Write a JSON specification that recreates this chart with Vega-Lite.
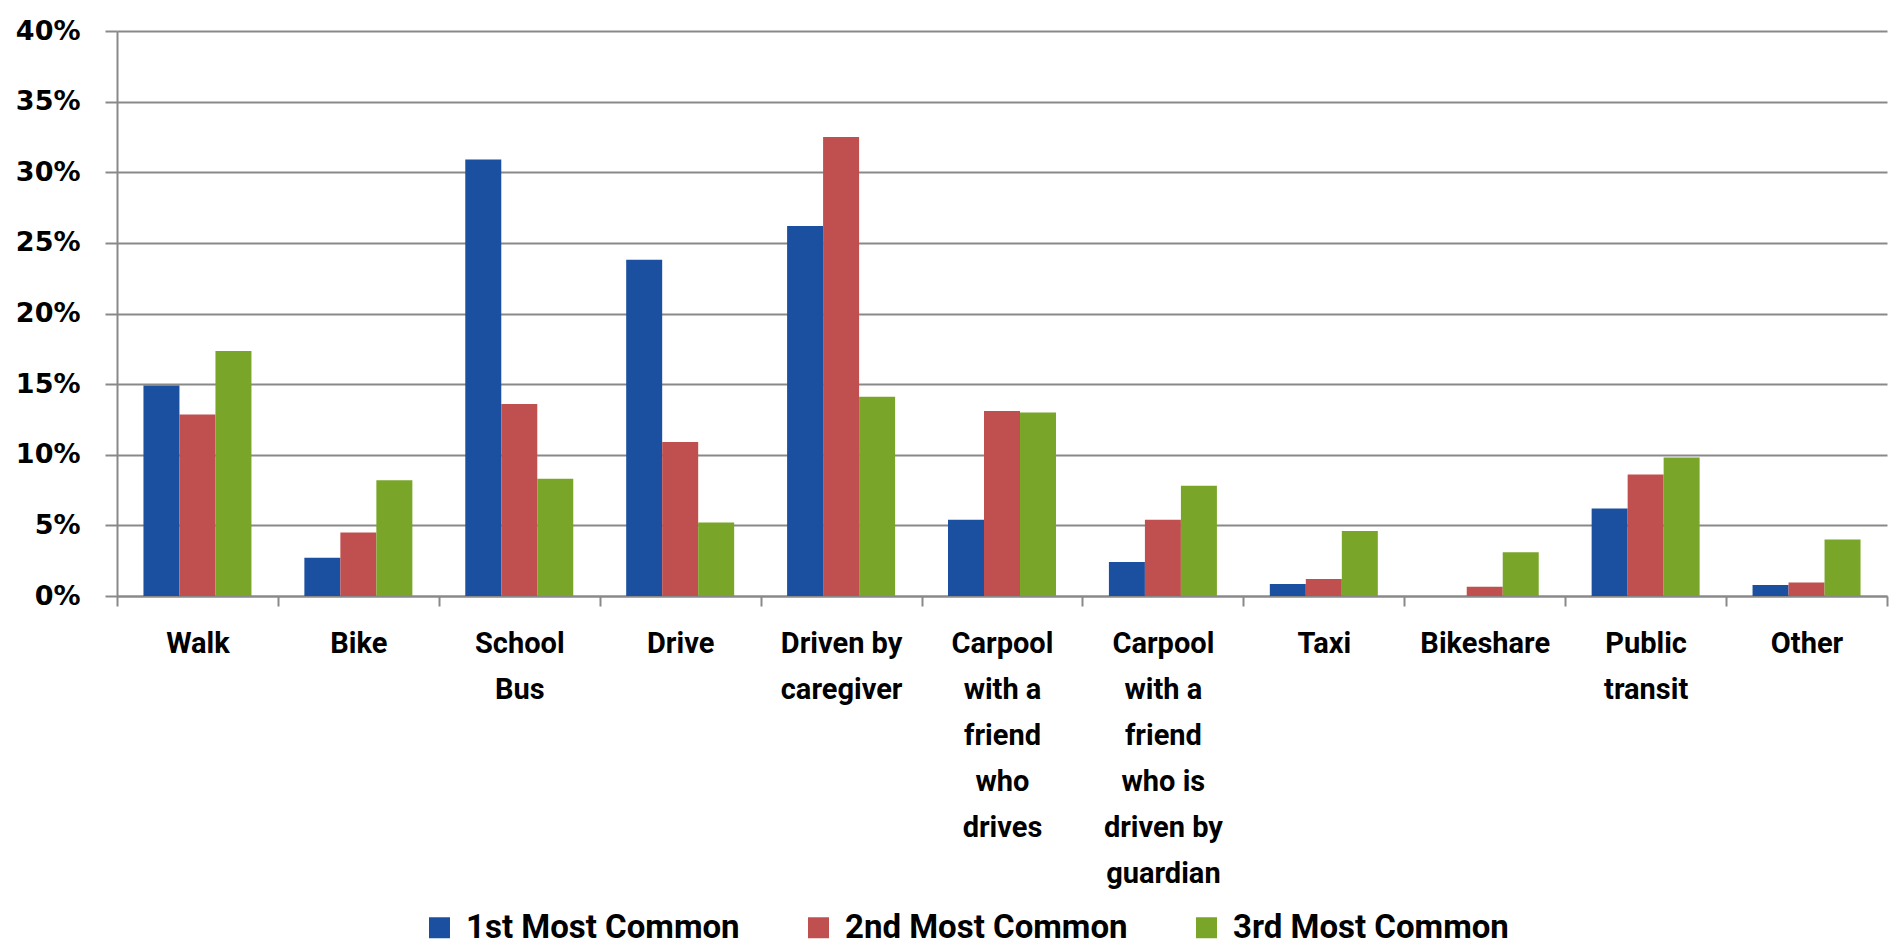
{
  "$schema": "https://vega.github.io/schema/vega-lite/v6.json",
  "autosize": "none",
  "width": 1770,
  "height": 565,
  "padding": {"left": 117, "top": 31, "right": 5, "bottom": 355},
  "background": "white",
  "data": {
    "values": [
      {"mode": "Walk", "rank": "1st Most Common", "share": 0.149},
      {"mode": "Walk", "rank": "2nd Most Common", "share": 0.1285},
      {"mode": "Walk", "rank": "3rd Most Common", "share": 0.1735},
      {"mode": "Bike", "rank": "1st Most Common", "share": 0.027},
      {"mode": "Bike", "rank": "2nd Most Common", "share": 0.045},
      {"mode": "Bike", "rank": "3rd Most Common", "share": 0.082},
      {"mode": "School Bus", "rank": "1st Most Common", "share": 0.309},
      {"mode": "School Bus", "rank": "2nd Most Common", "share": 0.136},
      {"mode": "School Bus", "rank": "3rd Most Common", "share": 0.083},
      {"mode": "Drive", "rank": "1st Most Common", "share": 0.238},
      {"mode": "Drive", "rank": "2nd Most Common", "share": 0.109},
      {"mode": "Drive", "rank": "3rd Most Common", "share": 0.052},
      {"mode": "Driven by caregiver", "rank": "1st Most Common", "share": 0.262},
      {"mode": "Driven by caregiver", "rank": "2nd Most Common", "share": 0.325},
      {"mode": "Driven by caregiver", "rank": "3rd Most Common", "share": 0.141},
      {"mode": "Carpool with a friend who drives", "rank": "1st Most Common", "share": 0.054},
      {"mode": "Carpool with a friend who drives", "rank": "2nd Most Common", "share": 0.131},
      {"mode": "Carpool with a friend who drives", "rank": "3rd Most Common", "share": 0.130},
      {"mode": "Carpool with a friend who is driven by guardian", "rank": "1st Most Common", "share": 0.024},
      {"mode": "Carpool with a friend who is driven by guardian", "rank": "2nd Most Common", "share": 0.054},
      {"mode": "Carpool with a friend who is driven by guardian", "rank": "3rd Most Common", "share": 0.078},
      {"mode": "Taxi", "rank": "1st Most Common", "share": 0.0085},
      {"mode": "Taxi", "rank": "2nd Most Common", "share": 0.012},
      {"mode": "Taxi", "rank": "3rd Most Common", "share": 0.046},
      {"mode": "Bikeshare", "rank": "1st Most Common", "share": 0.0},
      {"mode": "Bikeshare", "rank": "2nd Most Common", "share": 0.0065},
      {"mode": "Bikeshare", "rank": "3rd Most Common", "share": 0.031},
      {"mode": "Public transit", "rank": "1st Most Common", "share": 0.062},
      {"mode": "Public transit", "rank": "2nd Most Common", "share": 0.086},
      {"mode": "Public transit", "rank": "3rd Most Common", "share": 0.098},
      {"mode": "Other", "rank": "1st Most Common", "share": 0.0077},
      {"mode": "Other", "rank": "2nd Most Common", "share": 0.0095},
      {"mode": "Other", "rank": "3rd Most Common", "share": 0.040}
    ]
  },
  "mark": {"type": "bar"},
  "encoding": {
    "x": {
      "field": "mode",
      "type": "nominal",
      "sort": null,
      "scale": {"paddingInner": 0, "paddingOuter": 0},
      "axis": {
        "title": null,
        "labelAngle": 0,
        "tickBand": "extent",
        "tickSize": 10,
        "tickWidth": 2,
        "tickColor": "#898989",
        "domainColor": "#898989",
        "domainWidth": 2,
        "labelPadding": 23,
        "labelFont": "Roboto",
        "labelFontWeight": "bold",
        "labelFontSize": 29,
        "labelColor": "black",
        "labelLineHeight": 46,
        "labelBaseline": "top",
        "labelExpr": "datum.value == 'School Bus' ? ['School', 'Bus'] : datum.value == 'Driven by caregiver' ? ['Driven by', 'caregiver'] : datum.value == 'Carpool with a friend who drives' ? ['Carpool', 'with a', 'friend', 'who', 'drives'] : datum.value == 'Carpool with a friend who is driven by guardian' ? ['Carpool', 'with a', 'friend', 'who is', 'driven by', 'guardian'] : datum.value == 'Public transit' ? ['Public', 'transit'] : datum.value"
      }
    },
    "xOffset": {
      "field": "rank",
      "type": "nominal",
      "scale": {"paddingInner": 0, "paddingOuter": 0.735}
    },
    "y": {
      "field": "share",
      "type": "quantitative",
      "scale": {"domain": [0, 0.4], "nice": false},
      "axis": {
        "title": null,
        "format": ".0%",
        "values": [0, 0.05, 0.1, 0.15, 0.2, 0.25, 0.3, 0.35, 0.4],
        "grid": true,
        "gridColor": "#898989",
        "gridWidth": 2,
        "tickSize": 12,
        "tickWidth": 2,
        "tickColor": "#898989",
        "domainColor": "#898989",
        "domainWidth": 2,
        "labelPadding": 25,
        "labelFont": "DejaVu Sans",
        "labelFontWeight": "bold",
        "labelFontSize": 27,
        "labelColor": "black"
      }
    },
    "color": {
      "field": "rank",
      "type": "nominal",
      "scale": {
        "domain": ["1st Most Common", "2nd Most Common", "3rd Most Common"],
        "range": ["#1B50A0", "#C0504F", "#79A628"]
      },
      "legend": {
        "title": null,
        "orient": "none",
        "legendX": 306,
        "legendY": 880,
        "direction": "horizontal",
        "symbolType": "square",
        "symbolSize": 441,
        "symbolStrokeWidth": 0,
        "labelFont": "Roboto",
        "labelFontWeight": "bold",
        "labelFontSize": 33,
        "labelColor": "black",
        "labelOffset": 10,
        "labelLimit": 0,
        "columnPadding": 62
      }
    }
  },
  "config": {
    "view": {"stroke": null}
  }
}
